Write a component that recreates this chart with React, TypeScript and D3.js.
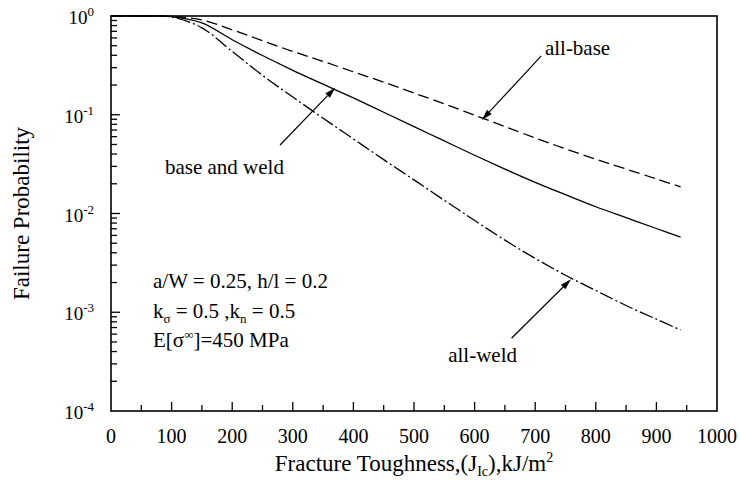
import React from "react";
import * as d3 from "d3";

const toughness = [0, 50, 100, 150, 200, 250, 300, 350, 400, 450, 500, 550, 600, 650, 700, 750, 800, 850, 900, 940];
const allBase = [1, 1, 0.989, 0.912, 0.724, 0.562, 0.437, 0.347, 0.272, 0.214, 0.166, 0.129, 0.0989, 0.0759, 0.0582, 0.0452, 0.0355, 0.0282, 0.0224, 0.0186];
const baseAndWeld = [1, 1, 0.986, 0.851, 0.575, 0.398, 0.282, 0.204, 0.148, 0.106, 0.0759, 0.0543, 0.0389, 0.0282, 0.0207, 0.0155, 0.0117, 0.00908, 0.00705, 0.00575];
const allWeld = [1, 1, 0.977, 0.759, 0.437, 0.251, 0.151, 0.0923, 0.0569, 0.0351, 0.0219, 0.0136, 0.00851, 0.00537, 0.00351, 0.00237, 0.00166, 0.00117, 0.000851, 0.000661];

const xTicks = [0, 100, 200, 300, 400, 500, 600, 700, 800, 900, 1000];
const xMinorTicks = [50, 150, 250, 350, 450, 550, 650, 750, 850, 950];
const yExponents = [0, -1, -2, -3, -4];

// annotations in data units: [x, p]
const arrows = [
  { name: "base and weld", tail: [279, 0.0494], tip: [370, 0.188] },
  { name: "all-base", tail: [710, 0.394], tip: [612, 0.0885] },
  { name: "all-weld", tail: [661, 0.000545], tip: [759, 0.00216] },
];

const W = 740;
const H = 489;
const M = { left: 111, right: 23, top: 16, bottom: 78 };
const FONT = "'Liberation Serif', 'Times New Roman', serif";

export default function App() {
  const x = d3.scaleLinear().domain([0, 1000]).range([M.left, W - M.right]);
  const y = d3.scaleLog().domain([1e-4, 1]).range([H - M.bottom, M.top]);
  const x0 = x(0), x1 = x(1000), yTop = y(1), yBot = y(1e-4);

  const mk = (vals: number[]) =>
    d3
      .line<number>()
      .x((_, i) => x(toughness[i]))
      .y((v) => y(v))
      .curve(d3.curveCatmullRom.alpha(0.5))(vals) || "";

  const yMinor: number[] = [];
  for (let e = -4; e < 0; e++) for (let m = 2; m <= 9; m++) yMinor.push(m * Math.pow(10, e));

  const arrowEls = arrows.map((a, i) => {
    const tx = x(a.tail[0]), ty = y(a.tail[1]);
    const px = x(a.tip[0]), py = y(a.tip[1]);
    const ang = Math.atan2(py - ty, px - tx);
    const L = 11, Wd = 3.2;
    const bx = px - L * Math.cos(ang), by = py - L * Math.sin(ang);
    const nx = -Math.sin(ang) * Wd, ny = Math.cos(ang) * Wd;
    return (
      <g key={i}>
        <line x1={tx} y1={ty} x2={bx} y2={by} stroke="#000" strokeWidth={1.2} />
        <polygon points={`${px},${py} ${bx + nx},${by + ny} ${bx - nx},${by - ny}`} fill="#000" />
      </g>
    );
  });

  return (
    <svg width={W} height={H} style={{ display: "block", position: "absolute", left: 0, top: 0 }} fontFamily={FONT}>
      <rect width={W} height={H} fill="#fff" />
      {/* curves */}
      <path d={mk(allBase)} fill="none" stroke="#000" strokeWidth={1.3} strokeDasharray="11,5" />
      <path d={mk(baseAndWeld)} fill="none" stroke="#000" strokeWidth={1.3} />
      <path d={mk(allWeld)} fill="none" stroke="#000" strokeWidth={1.3} strokeDasharray="14,3,2,3" />
      {/* frame */}
      <rect x={x0} y={yTop} width={x1 - x0} height={yBot - yTop} fill="none" stroke="#000" strokeWidth={1.6} />
      {/* x ticks */}
      {xTicks.slice(1, -1).map((t) => (
        <line key={"xt" + t} x1={x(t)} x2={x(t)} y1={yBot} y2={yBot - 9} stroke="#000" strokeWidth={1.3} />
      ))}
      {xMinorTicks.map((t) => (
        <line key={"xm" + t} x1={x(t)} x2={x(t)} y1={yBot} y2={yBot - 6} stroke="#000" strokeWidth={1.3} />
      ))}
      {xTicks.map((t) => (
        <text key={"xl" + t} x={x(t)} y={yBot + 32} textAnchor="middle" fontSize={20}>
          {t}
        </text>
      ))}
      {/* y ticks */}
      {yExponents.slice(1, -1).map((e) => (
        <line key={"yt" + e} x1={x0} x2={x0 + 9} y1={y(Math.pow(10, e))} y2={y(Math.pow(10, e))} stroke="#000" strokeWidth={1.3} />
      ))}
      {yMinor.map((v, i) => (
        <line key={"ym" + i} x1={x0} x2={x0 + 6} y1={y(v)} y2={y(v)} stroke="#000" strokeWidth={1.3} />
      ))}
      {yExponents.map((e) => (
        <text key={"yl" + e} x={x0 - 17} y={y(Math.pow(10, e)) + 8} textAnchor="end" fontSize={19}>
          10
          <tspan dy={-8} fontSize={13}>
            {String(e)}
          </tspan>
        </text>
      ))}
      {/* axis titles */}
      <text transform={`translate(29,${(yTop + yBot) / 2}) rotate(-90)`} textAnchor="middle" fontSize={23}>
        Failure Probability
      </text>
      <text x={(x0 + x1) / 2} y={471} textAnchor="middle" fontSize={23}>
        Fracture Toughness,(J
        <tspan dy={5} fontSize={14}>Ic</tspan>
        <tspan dy={-5}>),kJ/m</tspan>
        <tspan dy={-9} fontSize={14}>2</tspan>
      </text>
      {/* arrows */}
      {arrowEls}
      {/* curve labels */}
      <text x={x(89)} y={y(0.0251)} fontSize={21}>base and weld</text>
      <text x={x(716)} y={y(0.403)} fontSize={21}>all-base</text>
      <text x={x(670)} y={y(0.000313)} textAnchor="end" fontSize={21}>all-weld</text>
      {/* parameters */}
      <text x={153} y={288} fontSize={21}>a/W = 0.25, h/l = 0.2</text>
      <text x={153} y={318} fontSize={21}>
        k
        <tspan dy={5} fontSize={13}>σ</tspan>
        <tspan dy={-5}> = 0.5 ,k</tspan>
        <tspan dy={5} fontSize={13}>n</tspan>
        <tspan dy={-5}> = 0.5</tspan>
      </text>
      <text x={153} y={347} fontSize={21}>
        E[σ
        <tspan dy={-8} fontSize={13}>∞</tspan>
        <tspan dy={8}>]=450 MPa</tspan>
      </text>
    </svg>
  );
}
